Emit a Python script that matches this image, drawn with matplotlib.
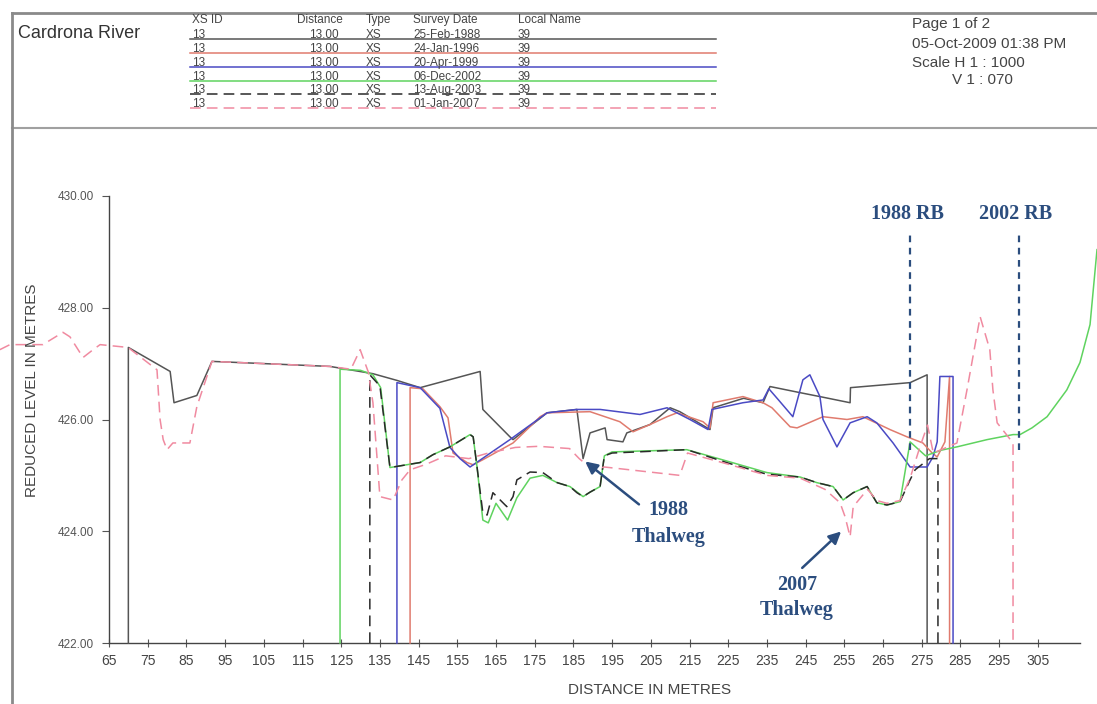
import matplotlib
matplotlib.use("Agg")
import matplotlib.pyplot as plt
from matplotlib.lines import Line2D

# ---------------- cross-section survey data (distance m, reduced level m) ----------------
d_1988 = [70, 70, 80.8, 81.8, 87.7, 91.6, 122.1, 133.2, 139.4, 145.4, 160.9, 161.6, 168.6, 169.4,
          178.2, 185.9, 187.5, 189.3, 193.2, 193.7, 197.8, 198.8, 204.8, 210.0, 212.5, 220.3, 221.1,
          229.0, 234.0, 235.8, 243.6, 248.7, 256.5, 256.6, 272.0, 276.4, 276.4]
z_1988 = [422.0, 427.29, 426.86, 426.30, 426.43, 427.04, 426.95, 426.82, 426.70, 426.57, 426.86, 426.18,
          425.69, 425.64, 426.12, 426.18, 425.30, 425.76, 425.85, 425.64, 425.60, 425.76, 425.91, 426.21,
          426.14, 425.82, 426.21, 426.38, 426.30, 426.59, 426.48, 426.41, 426.30, 426.57, 426.66, 426.80, 422.0]

d_1996 = [142.8, 142.8, 146.1, 150.5, 152.6, 153.9, 157.5, 159.1, 161.6, 169.4, 173.0, 176.4, 178.2,
          189.3, 197.0, 200.4, 204.8, 209.2, 211.8, 218.5, 220.3, 221.1, 228.8, 234.0, 236.3, 241.0,
          242.8, 249.5, 255.7, 259.8, 266.8, 271.2, 275.3, 277.7, 279.0, 281.0, 282.2, 282.2]
z_1996 = [422.0, 426.57, 426.55, 426.23, 426.03, 425.40, 425.23, 425.19, 425.28, 425.58, 425.82, 426.05,
          426.12, 426.14, 425.96, 425.78, 425.91, 426.05, 426.12, 425.96, 425.85, 426.30, 426.41, 426.30,
          426.21, 425.87, 425.85, 426.05, 426.00, 426.05, 425.82, 425.69, 425.58, 425.40, 425.33, 425.60,
          426.77, 422.0]

d_1999 = [139.4, 139.4, 145.4, 150.5, 153.1, 155.7, 158.3, 168.6, 178.2, 185.9, 191.9, 202.2, 209.2,
          215.1, 219.8, 220.8, 228.8, 234.0, 235.5, 238.0, 241.7, 244.3, 246.1, 248.7, 249.5, 253.1,
          256.5, 260.9, 263.4, 267.6, 272.0, 276.4, 277.9, 279.0, 279.7, 283.1, 283.1]
z_1999 = [422.0, 426.66, 426.57, 426.20, 425.50, 425.30, 425.15, 425.64, 426.12, 426.18, 426.18, 426.09,
          426.21, 426.00, 425.82, 426.18, 426.30, 426.35, 426.55, 426.35, 426.05, 426.71, 426.80, 426.41,
          426.00, 425.51, 425.94, 426.05, 425.94, 425.58, 425.15, 425.15, 425.33, 425.60, 426.77, 426.77, 422.0]

d_2002 = [124.7, 124.7, 130.0, 133.2, 135.2, 137.6, 145.4, 148.7, 153.1, 158.3, 159.1, 160.1, 161.6,
          163.0, 165.0, 168.0, 170.4, 173.8, 177.1, 180.8, 184.1, 187.5, 189.3, 191.9, 193.0, 195.0,
          214.3, 225.0, 235.0, 243.6, 247.9, 252.1, 254.7, 257.3, 260.9, 263.4, 266.0, 269.4, 272.0,
          276.0, 280.0, 284.1, 291.9, 298.6, 300.4, 303.5, 307.4, 312.5, 315.9, 318.5, 320.3]
z_2002 = [422.0, 426.90, 426.88, 426.80, 426.57, 425.14, 425.23, 425.37, 425.51, 425.73, 425.69, 425.15,
          424.20, 424.15, 424.50, 424.20, 424.60, 424.95, 425.00, 424.87, 424.80, 424.62, 424.70, 424.80,
          425.35, 425.42, 425.46, 425.25, 425.05, 424.97, 424.87, 424.80, 424.56, 424.69, 424.80, 424.51,
          424.47, 424.53, 425.60, 425.35, 425.45, 425.51, 425.64, 425.73, 425.73, 425.85, 426.05, 426.53,
          427.02, 427.70, 429.04]

d_2003 = [132.4, 132.4, 135.0, 137.6, 145.4, 148.7, 153.1, 158.3, 159.1, 160.1, 161.6, 162.7, 164.2,
          167.8, 169.4, 170.4, 173.8, 177.1, 180.8, 184.1, 185.9, 187.5, 189.3, 191.9, 193.0, 195.0,
          214.3, 225.0, 235.0, 243.6, 247.9, 252.1, 254.7, 257.3, 260.9, 263.4, 266.0, 269.4, 272.0,
          273.3, 277.0, 279.2, 279.2]
z_2003 = [422.0, 426.80, 426.60, 425.14, 425.23, 425.37, 425.51, 425.73, 425.69, 425.15, 424.33, 424.29,
          424.69, 424.44, 424.62, 424.92, 425.06, 425.05, 424.87, 424.80, 424.69, 424.62, 424.70, 424.80,
          425.35, 425.40, 425.46, 425.22, 425.02, 424.97, 424.87, 424.80, 424.56, 424.69, 424.80, 424.51,
          424.47, 424.53, 424.92, 425.10, 425.30, 425.30, 422.0]

d_2007 = [36.8, 39.4, 47.9, 53.1, 54.9, 58.3, 60.9, 62.7, 69.9, 77.4, 78.2, 79.0, 80.0, 81.5, 85.9,
          87.7, 91.6, 122.1, 127.5, 129.9, 132.0, 133.2, 135.0, 138.4, 140.7, 142.8, 147.0, 152.0,
          158.0, 163.0, 170.0, 176.0, 184.0, 186.5, 190.0, 193.0, 212.5, 214.5, 225.0, 235.0, 243.6,
          250.0, 253.9, 255.2, 256.5, 257.3, 261.0, 263.4, 266.0, 269.4, 272.0, 274.5, 276.5, 278.0,
          284.1, 286.7, 290.1, 292.6, 293.4, 294.5, 298.6, 298.6]
z_2007 = [427.25, 427.34, 427.34, 427.56, 427.48, 427.11, 427.25, 427.34, 427.29, 426.89, 426.00, 425.64,
          425.46, 425.58, 425.58, 426.23, 427.04, 426.95, 426.90, 427.25, 426.85, 426.30, 424.62, 424.56,
          424.92, 425.10, 425.20, 425.35, 425.30, 425.40, 425.50, 425.52, 425.48, 425.30, 425.10, 425.15,
          425.00, 425.40, 425.20, 425.00, 424.95, 424.75, 424.51, 424.26, 423.90, 424.44, 424.75, 424.55,
          424.50, 424.55, 424.95, 425.50, 425.90, 425.40, 425.58, 426.53, 427.84, 427.25, 426.53, 425.94,
          425.58, 422.0]

survey_dates = ["25-Feb-1988", "24-Jan-1996", "20-Apr-1999", "06-Dec-2002", "13-Aug-2003", "01-Jan-2007"]
x_ticks = list(range(65, 306, 10))
y_ticks = [422, 424, 426, 428, 430]

# bank and thalweg markers
rb_positions = [272.0, 300.1]
rb_labels = ["1988 RB", "2002 RB"]

# ---------------- styling ----------------
W, H = 1097, 704
fig = plt.figure(figsize=(W / 100, H / 100), dpi=100)
fig.patch.set_facecolor("white")
SANS = "Liberation Sans"
SERIF = "Liberation Serif"
NAVY = "#2b4d7e"

series = [
    (d_1988, z_1988, "#555555", None),
    (d_1996, z_1996, "#e07b6e", None),
    (d_1999, z_1999, "#4a4ac4", None),
    (d_2002, z_2002, "#5fd35f", None),
    (d_2003, z_2003, "#2a2a2a", (7, 4)),
    (d_2007, z_2007, "#f08aa0", (7, 4)),
]


def fx(px):
    return px / W


def fy(py):
    return 1 - py / H


# main axes: x 65 at px 109, y 422 at py 643, 430 at py 196
xmin, xmax = 65, 316
px_per_m = 3.87
ax_left, ax_bottom, ax_top = 109, 643, 196
ax_right = ax_left + (xmax - xmin) * px_per_m
ax = fig.add_axes([fx(ax_left), fy(ax_bottom), (ax_right - ax_left) / W, (ax_bottom - ax_top) / H])
ax.set_xlim(xmin, xmax)
ax.set_ylim(422, 430)

for d, z, c, dash in series:
    ln, = ax.plot(d, z, color=c, lw=1.1, clip_on=False, zorder=3)
    if dash:
        ln.set_dashes(dash)

for s in ("top", "right"):
    ax.spines[s].set_visible(False)
for s in ("left", "bottom"):
    ax.spines[s].set_color("#444444")
    ax.spines[s].set_linewidth(1.0)

ax.set_xticks(x_ticks)
ax.set_xticklabels([str(v) for v in x_ticks], fontname=SANS, fontsize=10, color="#444444")
ax.set_yticks(y_ticks)
ax.set_yticklabels([f"{v:.2f}" for v in y_ticks], fontname=SANS, fontsize=8.5, color="#555555")
ax.tick_params(axis="x", direction="inout", length=6, width=0.8, color="#555555", pad=5)
ax.tick_params(axis="y", direction="out", length=5, width=0.8, color="#555555", pad=6)

fig.text(fx(650), fy(690), "DISTANCE IN METRES", ha="center", va="center",
         fontname=SANS, fontsize=11, color="#444444")
fig.text(fx(32), fy(390), "REDUCED LEVEL IN METRES", ha="center", va="center", rotation=90,
         fontname=SANS, fontsize=11, color="#444444")

# bank position markers
for xr, lab in zip(rb_positions, rb_labels):
    ax.plot([xr, xr], [425.46, 429.37], color=NAVY, lw=1.6, dashes=(3, 2.5), zorder=5)
    ax.text(xr - 0.8, 429.67, lab, ha="center", va="center", fontname=SERIF,
            fontsize=14.5, fontweight="bold", color=NAVY)

# thalweg annotations
ax.annotate("", xy=(187.5, 425.28), xytext=(202.5, 424.45),
            arrowprops=dict(arrowstyle="-|>", color=NAVY, lw=1.8, mutation_scale=18), zorder=6)
ax.text(209.5, 424.38, "1988", ha="center", va="center", fontname=SERIF, fontsize=14.5,
        fontweight="bold", color=NAVY)
ax.text(209.5, 423.90, "Thalweg", ha="center", va="center", fontname=SERIF, fontsize=14.5,
        fontweight="bold", color=NAVY)
ax.annotate("", xy=(254.7, 424.03), xytext=(243.6, 423.31),
            arrowprops=dict(arrowstyle="-|>", color=NAVY, lw=1.8, mutation_scale=18), zorder=6)
ax.text(242.8, 423.04, "2007", ha="center", va="center", fontname=SERIF, fontsize=14.5,
        fontweight="bold", color=NAVY)
ax.text(242.8, 422.59, "Thalweg", ha="center", va="center", fontname=SERIF, fontsize=14.5,
        fontweight="bold", color=NAVY)

# ---------------- page frame and title block ----------------
frame_c = "#8a8a8a"
fig.add_artist(Line2D([fx(12), 1], [fy(13), fy(13)], transform=fig.transFigure, color=frame_c, lw=2))
fig.add_artist(Line2D([fx(12), 1], [fy(128), fy(128)], transform=fig.transFigure, color="#a0a0a0", lw=1.5))
fig.add_artist(Line2D([fx(12), fx(12)], [fy(13), 0], transform=fig.transFigure, color=frame_c, lw=2))

fig.text(fx(18), fy(34), "Cardrona River", ha="left", va="center", fontname=SANS,
         fontsize=13, color="#333333")

hdr_fs = 8.5
hdr_c = "#444444"
for px, lab in [(192, "XS ID"), (297, "Distance"), (366, "Type"), (413, "Survey Date"), (518, "Local Name")]:
    fig.text(fx(px), fy(20), lab, ha="left", va="center", fontname=SANS, fontsize=hdr_fs, color=hdr_c)

row_lines = [39, 53, 67, 81, 94, 108]
for (d, z, c, dash), py, date in zip(series, row_lines, survey_dates):
    ln = Line2D([fx(190), fx(716)], [fy(py), fy(py)], transform=fig.transFigure, color=c, lw=1.1)
    if dash:
        ln.set_dashes(dash)
    fig.add_artist(ln)
    for px, lab, ha in [(192, "13", "left"), (339, "13.00", "right"), (366, "XS", "left"),
                        (413, date, "left"), (518, "39", "left")]:
        fig.text(fx(px), fy(py - 1), lab, ha=ha, va="baseline", fontname=SANS,
                 fontsize=hdr_fs, color=hdr_c)

info_fs = 11
fig.text(fx(912), fy(24), "Page 1 of 2", ha="left", va="center", fontname=SANS, fontsize=info_fs, color="#444444")
fig.text(fx(912), fy(44), "05-Oct-2009 01:38 PM", ha="left", va="center", fontname=SANS, fontsize=info_fs, color="#444444")
fig.text(fx(912), fy(63), "Scale H 1 : 1000", ha="left", va="center", fontname=SANS, fontsize=info_fs, color="#444444")
fig.text(fx(952), fy(80), "V 1 : 070", ha="left", va="center", fontname=SANS, fontsize=info_fs, color="#444444")

fig.savefig("out.png", dpi=100)
